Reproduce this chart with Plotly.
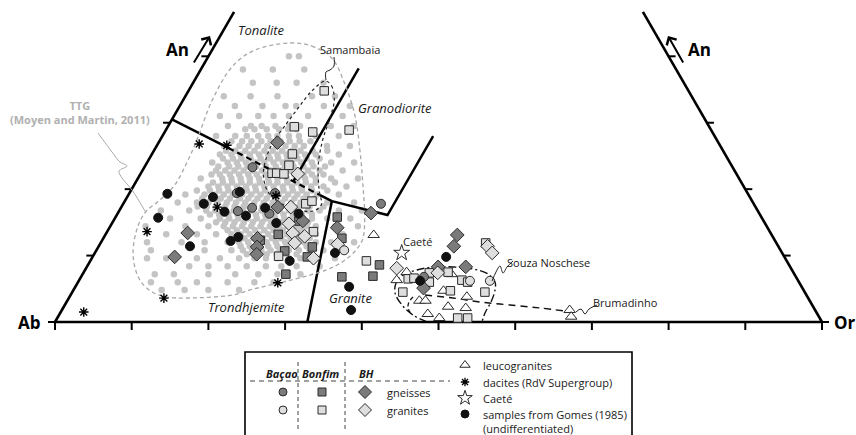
import math
import plotly.graph_objects as go

# ---------------------------------------------------------------
# Compositions as (An, Or) in %, Ab = 100 - An - Or
# ---------------------------------------------------------------
ttg_moyen_martin = [
    (40.0, 10.5), (40.0, 11.8),
    (38.0, 5.5), (38.0, 9.4), (38.0, 13.5),
    (36.0, 7.8), (36.0, 10.9), (36.0, 13.5), (36.0, 17.0),
    (34.0, 5.0), (34.0, 8.5), (34.0, 12.0), (34.0, 16.5), (34.0, 19.5),
    (32.5, 7.2), (32.5, 10.8), (32.5, 13.8), (32.5, 15.2), (32.5, 18.8), (32.5, 22.2),
    (31.0, 6.0), (31.0, 8.5), (31.0, 11.0), (31.0, 13.0), (31.0, 15.0), (31.0, 17.5), (31.0, 22.0),
    (29.5, 7.8), (29.5, 10.8), (29.5, 12.2), (29.5, 14.0), (29.5, 15.8), (29.5, 17.2), (29.5, 21.2), (29.5, 24.2),
    (29.0, 10.3), (29.0, 11.5), (29.0, 13.1), (29.0, 14.7), (29.0, 15.9), (29.0, 17.0),
    (28.0, 7.0), (28.0, 9.5), (28.0, 11.0), (28.0, 12.5), (28.0, 13.8), (28.0, 15.0), (28.0, 16.5), (28.0, 17.8),
    (28.0, 20.0), (28.0, 23.0),
    (27.2, 9.4), (27.2, 10.8), (27.2, 12.0), (27.2, 13.3), (27.2, 14.5), (27.2, 15.8), (27.2, 17.0), (27.2, 18.3),
    (27.2, 19.7),
    (26.5, 8.8), (26.5, 10.8), (26.5, 12.0), (26.5, 13.2), (26.5, 14.4), (26.5, 15.6), (26.5, 16.8), (26.5, 18.0),
    (26.5, 19.2), (26.5, 22.2), (26.5, 25.2),
    (25.8, 9.4), (25.8, 10.6), (25.8, 11.9), (25.8, 13.1), (25.8, 14.4), (25.8, 15.5), (25.8, 16.7), (25.8, 18.0),
    (25.8, 19.1), (25.8, 20.7), (25.8, 22.6),
    (25.2, 8.9), (25.2, 10.4), (25.2, 11.6), (25.2, 12.8), (25.2, 14.0), (25.2, 15.2), (25.2, 16.4), (25.2, 17.6),
    (25.2, 18.8), (25.2, 20.0), (25.2, 21.4), (25.2, 24.4),
    (24.6, 9.6), (24.6, 10.9), (24.6, 12.0), (24.6, 13.2), (24.6, 14.5), (24.6, 15.7), (24.6, 16.8), (24.6, 18.0),
    (24.6, 19.3), (24.6, 20.5), (24.6, 22.2),
    (24.0, 8.5), (24.0, 10.5), (24.0, 11.7), (24.0, 12.9), (24.0, 14.1), (24.0, 15.3), (24.0, 16.5), (24.0, 17.7),
    (24.0, 18.9), (24.0, 20.1), (24.0, 21.5), (24.0, 24.0), (24.0, 27.0),
    (23.4, 9.6), (23.4, 11.0), (23.4, 12.2), (23.4, 13.4), (23.4, 14.5), (23.4, 15.8), (23.4, 17.1), (23.4, 18.3),
    (23.4, 19.4), (23.4, 20.7), (23.4, 22.0), (23.4, 23.5),
    (22.8, 9.6), (22.8, 10.8), (22.8, 12.0), (22.8, 13.2), (22.8, 14.4), (22.8, 15.6), (22.8, 16.8), (22.8, 18.0),
    (22.8, 19.2), (22.8, 20.4), (22.8, 21.6), (22.8, 23.1), (22.8, 26.1),
    (22.2, 9.3), (22.2, 10.4), (22.2, 11.7), (22.2, 12.9), (22.2, 14.1), (22.2, 15.2), (22.2, 16.4), (22.2, 17.6),
    (22.2, 18.8), (22.2, 20.1), (22.2, 21.3), (22.2, 22.4), (22.2, 23.9),
    (21.6, 8.2), (21.6, 11.0), (21.6, 12.2), (21.6, 13.4), (21.6, 14.6), (21.6, 15.8), (21.6, 17.0), (21.6, 18.2),
    (21.6, 19.4), (21.6, 20.6), (21.6, 21.8), (21.6, 23.2), (21.6, 25.2), (21.6, 28.7),
    (21.0, 10.1), (21.0, 11.4), (21.0, 12.6), (21.0, 13.8), (21.0, 14.9), (21.0, 16.2), (21.0, 17.4), (21.0, 18.5),
    (21.0, 19.8), (21.0, 21.0), (21.0, 22.2), (21.0, 23.5), (21.0, 26.0),
    (20.4, 9.8), (20.4, 11.1), (20.4, 12.3), (20.4, 13.5), (20.4, 14.7), (20.4, 15.9), (20.4, 17.1), (20.4, 18.3),
    (20.4, 19.5), (20.4, 20.7), (20.4, 21.9), (20.4, 23.2), (20.4, 24.8), (20.4, 27.8),
    (19.8, 8.6), (19.8, 10.3), (19.8, 11.5), (19.8, 12.7), (19.8, 13.9), (19.8, 15.1), (19.8, 16.3), (19.8, 17.5),
    (19.8, 18.7), (19.8, 19.9), (19.8, 21.1), (19.8, 22.3), (19.8, 23.6), (19.8, 25.6),
    (19.2, 7.4), (19.2, 9.9), (19.2, 11.2), (19.2, 12.4), (19.2, 13.6), (19.2, 14.8), (19.2, 16.0), (19.2, 17.2),
    (19.2, 18.4), (19.2, 19.6), (19.2, 20.8), (19.2, 22.0), (19.2, 23.2), (19.2, 24.6), (19.2, 27.4),
    (18.6, 9.9), (18.6, 11.1), (18.6, 12.3), (18.6, 13.5), (18.6, 14.8), (18.6, 15.9), (18.6, 17.1), (18.6, 18.3),
    (18.6, 19.5), (18.6, 20.7), (18.6, 21.9), (18.6, 23.1), (18.6, 24.5),
    (18.0, 7.0), (18.0, 9.5), (18.0, 11.0), (18.0, 12.2), (18.0, 13.4), (18.0, 14.6), (18.0, 15.8), (18.0, 17.0),
    (18.0, 18.2), (18.0, 19.4), (18.0, 20.6), (18.0, 21.8), (18.0, 23.0), (18.0, 24.4), (18.0, 26.5), (18.0, 30.0),
    (17.4, 9.9), (17.4, 11.1), (17.4, 12.3), (17.4, 13.5), (17.4, 14.7), (17.4, 15.9), (17.4, 17.1), (17.4, 18.3),
    (17.4, 19.5), (17.4, 20.7), (17.4, 21.9), (17.4, 23.1), (17.4, 24.5), (17.4, 26.3),
    (16.8, 9.1), (16.8, 11.3), (16.8, 12.5), (16.8, 13.7), (16.8, 14.9), (16.8, 16.1), (16.8, 17.3), (16.8, 18.5),
    (16.8, 19.7), (16.8, 20.9), (16.8, 22.1), (16.8, 23.3), (16.8, 24.6), (16.8, 26.1), (16.8, 28.6), (16.8, 31.6),
    (16.2, 12.1), (16.2, 13.3), (16.2, 14.5), (16.2, 15.7), (16.2, 16.9), (16.2, 18.1), (16.2, 19.3), (16.2, 20.5),
    (16.2, 21.7), (16.2, 22.9), (16.2, 24.1), (16.2, 25.4),
    (15.6, 7.2), (15.6, 11.2), (15.6, 13.7), (15.6, 14.9), (15.6, 16.1), (15.6, 17.3), (15.6, 18.5), (15.6, 19.7),
    (15.6, 20.9), (15.6, 22.1), (15.6, 23.3), (15.6, 24.5), (15.6, 25.7), (15.6, 27.7), (15.6, 30.7),
    (15.0, 13.5), (15.0, 14.7), (15.0, 15.9), (15.0, 17.1), (15.0, 18.3), (15.0, 19.5), (15.0, 20.7), (15.0, 21.9),
    (15.0, 23.1), (15.0, 24.3), (15.0, 25.5),
    (14.4, 9.8), (14.4, 12.8), (14.4, 14.8), (14.4, 16.0), (14.4, 17.2), (14.4, 18.4), (14.4, 19.6), (14.4, 20.8),
    (14.4, 22.0), (14.4, 23.2), (14.4, 24.4), (14.4, 25.6), (14.4, 26.8), (14.4, 29.3), (14.4, 32.3),
    (13.8, 15.6), (13.8, 16.8), (13.8, 18.0), (13.8, 19.2), (13.8, 20.4), (13.8, 21.6), (13.8, 22.8), (13.8, 24.0),
    (13.8, 25.2), (13.8, 26.5),
    (13.2, 7.9), (13.2, 11.9), (13.2, 14.4), (13.2, 16.4), (13.2, 17.6), (13.2, 18.8), (13.2, 20.0), (13.2, 21.2),
    (13.2, 22.4), (13.2, 23.6), (13.2, 24.8), (13.2, 26.0), (13.2, 27.4), (13.2, 30.9),
    (12.6, 17.2), (12.6, 18.4), (12.6, 19.6), (12.6, 20.8), (12.6, 22.0), (12.6, 23.2), (12.6, 24.4), (12.6, 25.6),
    (12.6, 26.9),
    (12.0, 10.5), (12.0, 13.5), (12.0, 16.5), (12.0, 18.0), (12.0, 19.2), (12.0, 20.4), (12.0, 21.6), (12.0, 22.8),
    (12.0, 24.0), (12.0, 25.2), (12.0, 26.5), (12.0, 28.0), (12.0, 30.0), (12.0, 33.0),
    (11.4, 18.5), (11.4, 19.7), (11.4, 20.9), (11.4, 22.1), (11.4, 23.3), (11.4, 24.5), (11.4, 25.7), (11.4, 27.1),
    (10.8, 7.1), (10.8, 14.1), (10.8, 17.6), (10.8, 19.1), (10.8, 20.3), (10.8, 21.5), (10.8, 22.7), (10.8, 23.9),
    (10.8, 25.1), (10.8, 26.4), (10.8, 27.8), (10.8, 29.6), (10.8, 32.1),
    (10.2, 19.9), (10.2, 21.2), (10.2, 22.5), (10.2, 23.8), (10.2, 25.0), (10.2, 26.4),
    (9.6, 9.7), (9.6, 13.7), (9.6, 16.7), (9.6, 19.2), (9.6, 21.2), (9.6, 22.7), (9.6, 24.2), (9.6, 25.7),
    (9.6, 27.2), (9.6, 29.2), (9.6, 31.7),
    (8.4, 13.3), (8.4, 15.8), (8.4, 18.3), (8.4, 20.8), (8.4, 23.3), (8.4, 25.3), (8.4, 27.3), (8.4, 30.3),
    (7.2, 9.4), (7.2, 11.9), (7.2, 16.4), (7.2, 19.9), (7.2, 22.9), (7.2, 25.4), (7.2, 28.4),
    (6.0, 13.0), (6.0, 15.5), (6.0, 19.5), (6.0, 23.0), (6.0, 25.5),
    (4.8, 11.5), (4.8, 14.5), (4.8, 17.6), (4.8, 21.6),
    (14.4, 4.6), (12.0, 6.0), (16.8, 5.4), (9.6, 7.2), (6.0, 9.5),
]

bacao_gneiss = [(23.3, 14.1), (19.4, 14.0), (19.4, 19.0), (16.7, 15.5), (17.2, 17.1),
                (16.3, 19.8), (17.8, 33.6), (6.8, 44.7)]
bacao_granite = [(10.8, 32.3), (6.2, 51.0), (6.2, 53.6)]
bonfim_gneiss = [(13.2, 22.5), (10.7, 24.6), (7.2, 26.5), (12.3, 20.6), (15.2, 24.2), (15.8, 28.9),
                 (12.6, 31.1), (11.3, 27.9), (9.8, 28.0), (6.8, 34.0), (6.9, 38.0), (8.6, 38.0)]
bonfim_granite = [(34.8, 17.7), (29.4, 16.5), (28.6, 19.3), (28.9, 23.9), (25.3, 18.3), (23.6, 18.7),
                  (22.4, 17.1), (22.4, 17.7), (22.3, 18.7), (17.8, 23.8), (18.2, 24.4), (13.6, 26.9),
                  (9.9, 24.2), (9.2, 36.0), (4.5, 43.1), (6.5, 42.8), (6.6, 43.5), (7.4, 45.1),
                  (6.0, 45.8), (7.5, 47.5), (4.7, 49.2), (6.3, 49.9), (6.0, 50.8), (4.5, 53.8),
                  (0.6, 52.2), (0.6, 53.5), (11.9, 50.2)]
bh_gneiss = [(27.0, 15.5), (13.4, 10.6), (9.8, 10.7), (12.6, 20.1), (11.3, 20.7), (10.2, 21.2),
             (17.3, 20.4), (15.2, 24.7), (16.4, 33.0), (14.2, 29.7), (13.1, 45.9), (11.4, 46.3),
             (8.3, 49.4), (8.3, 45.8), (5.1, 45.5)]
bh_granite = [(22.3, 20.5), (17.3, 22.1), (14.8, 23.1), (13.4, 24.3), (11.9, 25.3), (12.9, 26.1),
              (9.6, 28.9), (11.7, 31.0), (8.1, 40.5), (7.4, 46.2), (11.4, 50.7), (10.4, 51.8)]
leucogranites = [(13.1, 35.0), (6.3, 41.4), (7.5, 42.1), (3.2, 45.9), (3.2, 46.7), (1.2, 48.0),
                 (0.6, 49.8), (4.7, 48.3), (2.3, 50.1), (7.2, 48.1), (3.8, 51.8), (2.1, 52.5),
                 (1.8, 66.2), (0.8, 66.9)]
dacites_rdv = [(1.5, 3.0), (13.6, 5.2), (3.6, 12.4), (26.8, 5.4), (26.6, 9.1), (17.3, 12.5),
               (5.9, 26.1), (19.0, 19.3)]
caete = [(10.4, 40.0)]
gomes_1985 = [(19.3, 5.0), (18.8, 11.2), (17.8, 10.5), (16.6, 13.8), (16.0, 16.9), (17.2, 18.8),
              (19.6, 14.3), (15.7, 5.6), (11.4, 11.9), (12.2, 16.8), (12.8, 17.5), (14.9, 21.4),
              (9.2, 26.0), (16.3, 23.6), (10.4, 31.3), (5.3, 35.7), (1.8, 37.7), (9.8, 46.1),
              (6.2, 44.5)]

# Field boundaries of the An-Ab-Or classification (An, Or)
tt_solid_a = [(30.5, 0.0), (26.2, 9.5)]
tt_dashed = [(26.2, 9.5), (19.1, 25.0)]
tt_solid_b = [(19.1, 25.0), (18.2, 27.0), (16.1, 35.3), (28.0, 35.3)]
tonalite_granodiorite = [(21.2, 20.5), (38.2, 20.5)]
granite_trondhjemite = [(18.2, 27.0), (0.0, 32.9)]

# Envelopes (An, Or)
ttg_field = [(42.0, 9.6), (41.55, 12.7), (39.75, 16.2), (35.68, 20.0), (31.17, 23.5), (25.9, 26.8),
             (20.33, 30.0), (15.36, 32.7), (12.35, 33.9), (10.39, 33.7), (8.58, 32.5), (7.38, 30.5),
             (6.02, 26.7), (4.82, 23.0), (4.07, 21.2), (3.61, 15.4), (3.76, 12.7), (4.52, 10.4),
             (6.32, 7.9), (9.79, 5.3), (13.55, 3.8), (16.41, 3.5), (18.37, 4.5), (20.63, 5.3),
             (23.94, 5.2), (27.4, 4.8), (33.42, 3.8), (38.54, 3.9), (40.95, 5.6), (42.0, 9.6)]
samambaia_field = [(36.28, 17.1), (35.53, 18.3), (33.42, 19.7), (30.71, 20.5), (27.4, 21.2),
                   (23.64, 22.5), (19.87, 24.5), (17.62, 25.9), (16.71, 25.3), (16.86, 23.3),
                   (17.77, 20.7), (19.57, 18.0), (22.13, 16.1), (24.69, 15.2), (27.1, 14.9),
                   (29.51, 15.2), (32.22, 15.6), (34.78, 16.1), (36.28, 17.1)]
souza_noschese_field = [(0.0, 48.5), (1.05, 46.15), (2.56, 43.96), (4.37, 42.15), (5.87, 41.53),
                        (7.08, 41.83), (7.83, 43.28), (8.28, 45.14), (8.28, 47.75), (7.98, 50.51),
                        (7.23, 52.84), (6.02, 54.36), (4.82, 54.96), (3.01, 55.34), (1.36, 55.38),
                        (0.0, 55.67)]
souza_inner_arc = [(3.76, 44.8), (3.01, 44.65), (2.11, 44.97), (1.05, 46.02)]
brumadinho_trend = [(4.07, 46.21), (3.61, 50.08), (3.01, 53.9), (2.56, 58.04), (2.11, 62.18), (1.66, 65.66)]

side_top_an = 46.7
bottom_ticks = [0, 10, 20, 30, 40, 50, 60, 70, 80, 90, 100]
side_ticks = [0, 10, 20, 30, 40]

# ---------------------------------------------------------------
S3 = math.sqrt(3) / 2
W, H = 856, 435
X0, XSCALE, Y0 = 55.0, 7.67, 322.0   # pixel of Ab corner, pixels per % unit


def tern(points):
    xs = [o + a / 2 for a, o in points]
    ys = [a * S3 for a, o in points]
    return xs, ys


def paper(px, py):
    return px / W, 1 - py / H


fig = go.Figure()

MAIN = dict(xaxis="x", yaxis="y", hoverinfo="skip", showlegend=False)
PIX = dict(xaxis="x2", yaxis="y2", hoverinfo="skip", showlegend=False)


def line_trace(points, color="black", width=2.5, dash="solid", shape="linear"):
    xs, ys = tern(points)
    fig.add_trace(go.Scatter(x=xs, y=ys, mode="lines",
                             line=dict(color=color, width=width, dash=dash, shape=shape),
                             **MAIN))


# TTG compilation dots
tx, ty = tern(ttg_moyen_martin)
fig.add_trace(go.Scatter(x=tx, y=ty, mode="markers",
                         marker=dict(size=6.5, color="#c4c4c4", line=dict(width=0)), **MAIN))

# field boundaries
line_trace(tt_solid_a)
line_trace(tt_dashed, dash="6px,4px", width=2.2)
line_trace(tt_solid_b)
line_trace(tonalite_granodiorite)
line_trace(granite_trondhjemite)

# envelopes
line_trace(ttg_field, color="#a8a8a8", width=1.3, dash="4px,3px", shape="spline")
line_trace(samambaia_field, color="#222", width=1.2, dash="dot", shape="spline")
line_trace(souza_noschese_field, color="#111", width=1.4, dash="8px,3px,2px,3px", shape="spline")
line_trace(souza_inner_arc, color="#111", width=1.3, dash="4px,3px", shape="spline")
line_trace(brumadinho_trend, color="#111", width=1.4, dash="7px,5px", shape="spline")

# triangle frame, truncated at side_top_an
frame_left = [(0, 0), (side_top_an, 0)]
frame_bottom = [(0, 0), (0, 100)]
frame_right = [(0, 100), (side_top_an, 100 - side_top_an)]
for seg in (frame_left, frame_bottom, frame_right):
    line_trace(seg, width=2.6)

# ticks
tk_x, tk_y = [], []
tick_len_b = 8 / XSCALE
tick_len_s = 7 / XSCALE
for t in bottom_ticks:
    tk_x += [t, t, None]
    tk_y += [0, -tick_len_b, None]
for t in side_ticks:
    xl, yl = tern([(t, 0)])
    tk_x += [xl[0], xl[0] - tick_len_s, None]
    tk_y += [yl[0], yl[0], None]
    xr, yr = tern([(t, 100 - t)])
    tk_x += [xr[0], xr[0] + tick_len_s, None]
    tk_y += [yr[0], yr[0], None]
fig.add_trace(go.Scatter(x=tk_x, y=tk_y, mode="lines", line=dict(color="black", width=2), **MAIN))

DARK, LIGHT, EDGE = "#7b7b7b", "#dedede", "#2a2a2a"


def marker_trace(points, symbol, fill, size, edge=EDGE, lw=1.0):
    xs, ys = tern(points)
    fig.add_trace(go.Scatter(x=xs, y=ys, mode="markers",
                             marker=dict(symbol=symbol, size=size, color=fill,
                                         line=dict(color=edge, width=lw)), **MAIN))


marker_trace(leucogranites, "triangle-up", "white", 10)
marker_trace(bonfim_gneiss, "square", DARK, 8.5)
marker_trace(bonfim_granite, "square", LIGHT, 8.5)
marker_trace(bh_gneiss, "diamond", DARK, 10.5)
marker_trace(bh_granite, "diamond", LIGHT, 10.5)
marker_trace(bacao_gneiss, "circle", DARK, 9)
marker_trace(bacao_granite, "circle", LIGHT, 9)
marker_trace(gomes_1985, "circle", "#111", 9, edge="#111")
marker_trace(dacites_rdv, "asterisk-open", "black", 8, edge="black", lw=1.4)
marker_trace(caete, "star", "white", 12)

# ---------------- leader lines (pixel space) ----------------
leaders = [
    [(98, 133), (112, 152), (120, 162), (127, 166), (119, 171), (122, 178), (132, 190), (145, 211)],
    [(334, 57), (334, 66), (330, 70), (326, 72), (326, 80)],
    [(492, 281), (496, 272), (500, 266), (503, 273), (507, 267), (513, 261)],
    [(576, 312), (581, 309), (585, 314), (589, 309), (597, 305)],
]
leader_colors = ["#aaaaaa", "#222", "#222", "#222"]
for pts, c in zip(leaders, leader_colors):
    fig.add_trace(go.Scatter(x=[p[0] for p in pts], y=[p[1] for p in pts], mode="lines",
                             line=dict(color=c, width=1, shape="spline"), **PIX))

# ---------------- legend box (pixel space) ----------------
legend_rows = [
    ("circle", DARK, 283, 392, 8), ("square", DARK, 322, 392, 8), ("diamond", DARK, 365, 392, 10),
    ("circle", LIGHT, 283, 410, 8), ("square", LIGHT, 322, 410, 8), ("diamond", LIGHT, 365, 410, 10),
    ("triangle-up", "white", 465, 365, 9), ("star", "white", 465, 398, 11),
]
for sym, col, px, py, sz in legend_rows:
    fig.add_trace(go.Scatter(x=[px], y=[py], mode="markers",
                             marker=dict(symbol=sym, size=sz, color=col, line=dict(color=EDGE, width=1)),
                             **PIX))
fig.add_trace(go.Scatter(x=[465], y=[382], mode="markers",
                         marker=dict(symbol="asterisk-open", size=7, color="black",
                                     line=dict(color="black", width=1.3)),
                         **PIX))
fig.add_trace(go.Scatter(x=[465], y=[414], mode="markers",
                         marker=dict(symbol="circle", size=8, color="#111", line=dict(color="#111", width=1)),
                         **PIX))

shapes = [
    dict(type="rect", xref="x2", yref="y2", x0=245, y0=352, x1=632, y1=445,
         line=dict(color="black", width=1.6), fillcolor="rgba(0,0,0,0)"),
    dict(type="line", xref="x2", yref="y2", x0=298, y0=362, x1=298, y1=430,
         line=dict(color="#444", width=1, dash="4px,3px")),
    dict(type="line", xref="x2", yref="y2", x0=345, y0=362, x1=345, y1=430,
         line=dict(color="#444", width=1, dash="4px,3px")),
    dict(type="line", xref="x2", yref="y2", x0=250, y0=381, x1=450, y1=381,
         line=dict(color="#444", width=1, dash="5px,4px")),
]

FONT = "Open Sans, Noto Sans, sans-serif"
annotations = []


def label(text, px, py, size=11, color="#1a1a1a", xanchor="center", align="center"):
    ax, ay = paper(px, py)
    annotations.append(dict(text=text, x=ax, y=ay, xref="paper", yref="paper",
                            xanchor=xanchor, yanchor="middle", showarrow=False, align=align,
                            font=dict(family=FONT, size=size, color=color)))


label("<i>Tonalite</i>", 261, 30, 13)
label("<i>Granodiorite</i>", 395, 108, 13)
label("<i>Trondhjemite</i>", 246, 307, 13)
label("<i>Granite</i>", 350, 298, 13)
label("Samambaia", 350, 50, 11)
label("Caeté", 417, 242, 11)
label("Souza Noschese", 548, 262, 11)
label("Brumadinho", 625, 302, 11)
label("<b>TTG<br>(Moyen and Martin, 2011)</b>", 80, 112, 11, color="#b0b0b0")
label("<b>An</b>", 177, 50, 17, color="black")
label("<b>An</b>", 699, 50, 17, color="black")
label("<b>Ab</b>", 30, 322, 17, color="black")
label("<b>Or</b>", 845, 322, 17, color="black")

label("<b><i>Baçao</i></b>", 282, 373, 11)
label("<b><i>Bonfim</i></b>", 320, 373, 11)
label("<b><i>BH</i></b>", 366, 373, 11)
label("gneisses", 385, 392, 11, xanchor="left")
label("granites", 385, 410, 11, xanchor="left")
label("leucogranites", 481, 365, 11, xanchor="left")
label("dacites (RdV Supergroup)", 481, 382, 11, xanchor="left")
label("Caeté", 481, 398, 11, xanchor="left")
label("samples from Gomes (1985)<br>(undifferentiated)", 481, 421, 11, xanchor="left", align="left")

# An direction arrows
for tip, tail in (((210, 36), (193, 64)), ((668, 36), (684, 64))):
    annotations.append(dict(x=tip[0], y=tip[1], ax=tail[0], ay=tail[1], xref="x2", yref="y2",
                            axref="x2", ayref="y2", showarrow=True, arrowhead=4, arrowsize=1.1,
                            arrowwidth=2, arrowcolor="black", text=""))

fig.update_layout(
    width=W, height=H,
    margin=dict(l=0, r=0, t=0, b=0),
    paper_bgcolor="white", plot_bgcolor="white",
    showlegend=False,
    xaxis=dict(range=[-X0 / XSCALE, (W - X0) / XSCALE], visible=False, fixedrange=True),
    yaxis=dict(range=[-(H - Y0) / XSCALE, Y0 / XSCALE], visible=False, fixedrange=True),
    xaxis2=dict(range=[0, W], visible=False, overlaying="x", anchor="y2", fixedrange=True),
    yaxis2=dict(range=[H, 0], visible=False, overlaying="y", anchor="x2", fixedrange=True),
    shapes=shapes,
    annotations=annotations,
)

fig.write_html("out.html")
